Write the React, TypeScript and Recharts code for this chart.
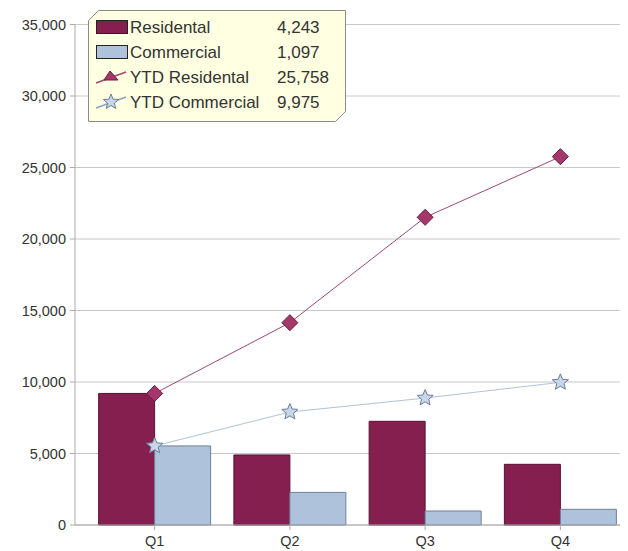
import React from 'react';
import { ComposedChart, Bar, Line, XAxis, YAxis, CartesianGrid, Legend } from 'recharts';

const quarters = ['Q1', 'Q2', 'Q3', 'Q4'];
const residential = [9200, 4900, 7250, 4243];
const commercial = [5530, 2280, 980, 1097];
const ytdResidential = [9200, 14150, 21515, 25758];
const ytdCommercial = [5530, 7900, 8878, 9975];
const yTicks = [0, 5000, 10000, 15000, 20000, 25000, 30000, 35000];

const data = quarters.map((q, i) => ({
  quarter: q,
  residential: residential[i],
  commercial: commercial[i],
  ytdResidential: ytdResidential[i],
  ytdCommercial: ytdCommercial[i],
}));

const FONT = '"Liberation Sans", Arial, sans-serif';
const RES_FILL = '#841f50';
const RES_STROKE = '#5a1234';
const COM_FILL = '#aec2db';
const COM_STROKE = '#6f8099';
const RES_LINE = '#9c4a72';
const COM_LINE = '#b0c2d8';

const starPoints = (cx: number, cy: number, r: number, ri: number) => {
  const pts: string[] = [];
  for (let k = 0; k < 10; k++) {
    const rad = k % 2 === 0 ? r : ri;
    const a = -Math.PI / 2 + (k * Math.PI) / 5;
    pts.push(`${cx + rad * Math.cos(a)},${cy + rad * Math.sin(a)}`);
  }
  return pts.join(' ');
};

const Diamond = (props: any) => {
  const { cx, cy, index } = props;
  if (cx == null || cy == null) return null;
  return (
    <polygon
      key={`d-${index}`}
      points={`${cx},${cy - 8} ${cx + 8},${cy} ${cx},${cy + 8} ${cx - 8},${cy}`}
      fill="#a5386b"
      stroke="#6a1a42"
      strokeWidth={1}
    />
  );
};

const Star = (props: any) => {
  const { cx, cy, index } = props;
  if (cx == null || cy == null) return null;
  return (
    <polygon key={`s-${index}`} points={starPoints(cx, cy, 8.5, 3.8)} fill="#c9d6e7" stroke="#6c7f99" strokeWidth={1} />
  );
};

const fmt = (v: number) => v.toLocaleString('en-US');

const legendRows = [
  { label: 'Residental', value: residential[residential.length - 1], kind: 'resBar' },
  { label: 'Commercial', value: commercial[commercial.length - 1], kind: 'comBar' },
  { label: 'YTD Residental', value: ytdResidential[ytdResidential.length - 1], kind: 'resLine' },
  { label: 'YTD Commercial', value: ytdCommercial[ytdCommercial.length - 1], kind: 'comLine' },
];

const LegendBox = () => {
  const w = 257;
  const h = 111;
  const c = 10;
  return (
    <svg width={w + 2} height={h + 2} style={{ display: 'block' }}>
      <polygon
        points={`${0.5},${c + 0.5} ${c + 0.5},0.5 ${w + 0.5},0.5 ${w + 0.5},${h - c + 0.5} ${w - c + 0.5},${h + 0.5} 0.5,${h + 0.5}`}
        fill="#ffffe1"
        stroke="#8a8a8a"
      />
      {legendRows.map((r, i) => {
        const y = 17 + i * 25;
        let icon: React.ReactNode = null;
        if (r.kind === 'resBar') {
          icon = <rect x={8.5} y={y - 6.5} width={31} height={13} fill={RES_FILL} stroke="#222" />;
        } else if (r.kind === 'comBar') {
          icon = <rect x={8.5} y={y - 6.5} width={31} height={13} fill={COM_FILL} stroke="#222" />;
        } else if (r.kind === 'resLine') {
          icon = (
            <g>
              <line x1={8} y1={y + 6} x2={38} y2={y - 5} stroke={RES_LINE} strokeWidth={1.5} />
              <polygon points={`${16},${y + 3} ${22},${y - 6} ${30},${y + 3}`} fill="#a5386b" stroke="#6a1a42" />
            </g>
          );
        } else {
          icon = (
            <g>
              <line x1={8} y1={y + 6} x2={38} y2={y - 5} stroke="#8ea3bd" strokeWidth={1.5} />
              <polygon points={starPoints(23, y, 8, 3.5)} fill="#c9d6e7" stroke="#6c7f99" />
            </g>
          );
        }
        return (
          <g key={r.label}>
            {icon}
            <text x={42} y={y + 6} fontSize={17} fill="#333" fontFamily={FONT}>
              {r.label}
            </text>
            <text x={189} y={y + 6} fontSize={17} fill="#333" fontFamily={FONT}>
              {fmt(r.value)}
            </text>
          </g>
        );
      })}
    </svg>
  );
};

export default function App() {
  return (
    <div style={{ fontFamily: FONT }}>
      <ComposedChart
        width={620}
        height={543}
        data={data}
        margin={{ top: 16.5, right: 0, bottom: 0, left: 0 }}
        barCategoryGap="8.6%"
        barGap={0}
      >
        <CartesianGrid vertical={false} stroke="#c8c8c8" />
        <XAxis
          dataKey="quarter"
          height={26}
          padding={{ left: 12, right: 0 }}
          stroke="#aaa"
          tickSize={5}
          tickMargin={6}
          tick={{ fill: '#333', fontSize: 14.5, fontFamily: FONT }}
        />
        <YAxis
          width={67}
          domain={[0, 35000]}
          ticks={yTicks}
          stroke="#aaa"
          tickSize={5}
          tickMargin={4}
          tickFormatter={fmt}
          tick={{ fill: '#333', fontSize: 14.5, fontFamily: FONT }}
        />
        <Bar dataKey="residential" name="Residental" fill={RES_FILL} stroke={RES_STROKE} isAnimationActive={false} />
        <Bar dataKey="commercial" name="Commercial" fill={COM_FILL} stroke={COM_STROKE} isAnimationActive={false} />
        <Line
          type="linear"
          dataKey="ytdResidential"
          name="YTD Residental"
          stroke={RES_LINE}
          strokeWidth={1}
          dot={Diamond}
          activeDot={false}
          isAnimationActive={false}
        />
        <Line
          type="linear"
          dataKey="ytdCommercial"
          name="YTD Commercial"
          stroke={COM_LINE}
          strokeWidth={1}
          dot={Star}
          activeDot={false}
          isAnimationActive={false}
        />
        <Legend
          layout="vertical"
          align="center"
          verticalAlign="middle"
          wrapperStyle={{ left: 80, top: 2, width: 'auto', height: 'auto' }}
          content={() => <LegendBox />}
        />
      </ComposedChart>
    </div>
  );
}
